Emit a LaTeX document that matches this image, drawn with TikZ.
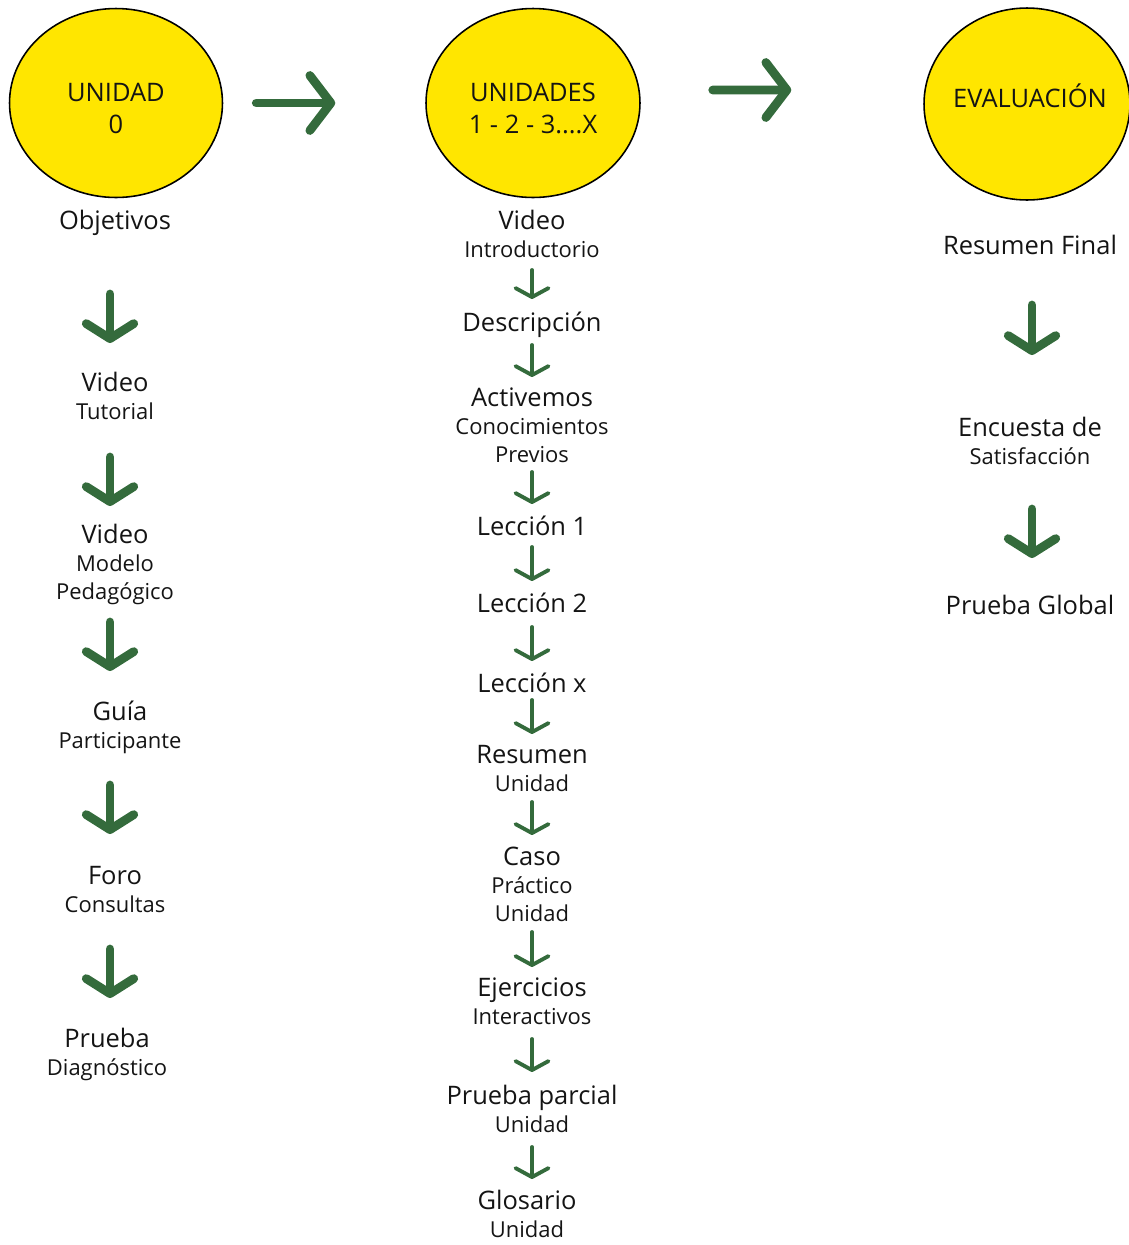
\documentclass[tikz,border=0pt]{standalone}
\usepackage{fontspec}
\setmainfont{Open Sans}
\usetikzlibrary{shapes.geometric,arrows.meta}
\definecolor{verdeflecha}{HTML}{346B3C}
\definecolor{amarillo}{HTML}{FFE600}
\definecolor{tinta}{HTML}{141414}
\newcommand{\grande}{\fontsize{14.5pt}{15.8pt}\selectfont}
\newcommand{\chica}{\fontsize{12.5pt}{15.8pt}\selectfont}
\newcommand{\circulo}{\fontsize{14.5pt}{18pt}\selectfont}
\tikzset{
  unidad/.style={ellipse,draw=black,line width=0.9pt,fill=amarillo,inner sep=0pt},
  rotulo/.style={align=center,anchor=base,text=tinta,font=\circulo,inner sep=0pt},
  paso/.style={align=center,anchor=base,text=tinta,font=\grande,inner sep=0pt},
  flechahoriz/.style={verdeflecha,line width=5pt,line cap=round,
    -{Straight Barb[length=0.42cm,width=1.1cm,round]}},
  flechagruesa/.style={verdeflecha,line width=5pt,line cap=round,
    -{Straight Barb[length=0.3cm,width=0.95cm,round]}},
  flechafina/.style={verdeflecha,line width=2.2pt,line cap=round,
    -{Straight Barb[length=0.18cm,width=0.66cm,round]}},
}
\begin{document}
\begin{tikzpicture}[x=0.02cm,y=-0.02cm]
  \useasboundingbox (0,0) rectangle (1129,1245);
  % las tres etapas
  \node[unidad,minimum width=4.26cm,minimum height=3.78cm] (u0) at (116,103) {};
  \node[unidad,minimum width=4.28cm,minimum height=3.78cm] (u1) at (533,103) {};
  \node[unidad,minimum width=4.12cm,minimum height=3.84cm] (u2) at (1027,104) {};
  \node[rotulo] (u0t) at (116,133) {UNIDAD\\0};
  \node[rotulo] (u1t) at (533,133) {UNIDADES\\1 - 2 - 3....X};
  \node[rotulo] (u2t) at (1030,107) {EVALUACIÓN};
  \draw[flechahoriz,shorten <=0.66cm,shorten >=1.8cm] (u0) -- (u1);
  \draw[flechahoriz,shorten <=1.44cm,shorten >=2.64cm]
    ([yshift=0.26cm]u1.east) -- ([yshift=0.28cm]u2.west);
  % unidad 0
  \node[paso] (obj) at (115,229) {Objetivos};
  \node[paso] (vtut) at (115,419) {Video\\{\chica Tutorial}};
  \node[paso] (vmod) at (115,599) {Video\\{\chica Modelo}\\{\chica Pedagógico}};
  \node[paso] (guia) at (120,748) {Guía\\{\chica Participante}};
  \node[paso] (foro) at (115,912) {Foro\\{\chica Consultas}};
  \node[paso] (pdiag) at (107,1075) {Prueba\\{\chica Diagnóstico}};
  % unidades 1 - 2 - 3
  \node[paso] (vint) at (532,257) {Video\\{\chica Introductorio}};
  \node[paso] (desc) at (532,331) {Descripción};
  \node[paso] (act) at (532,462) {Activemos\\{\chica Conocimientos}\\{\chica Previos}};
  \node[paso] (lec1) at (532,535) {Lección 1};
  \node[paso] (lec2) at (532,612) {Lección 2};
  \node[paso] (lecx) at (532,692) {Lección x};
  \node[paso] (resu) at (532,791) {Resumen\\{\chica Unidad}};
  \node[paso] (caso) at (532,921) {Caso\\{\chica Práctico}\\{\chica Unidad}};
  \node[paso] (ejer) at (532,1024) {Ejercicios\\{\chica Interactivos}};
  \node[paso] (ppar) at (532,1132) {Prueba parcial\\{\chica Unidad}};
  \node[paso] (glos) at (527,1237) {Glosario\\{\chica Unidad}};
  % evaluacion
  \node[paso] (rfin) at (1030,254) {Resumen Final};
  \node[paso] (enc) at (1030,464) {Encuesta de\\{\chica Satisfacción}};
  \node[paso] (pglo) at (1030,614) {Prueba Global};
  % flechas verticales
  \foreach \n/\x/\a/\b in {1/110/294/343, 2/110/457/506, 3/110/622/671,
      4/110/785/834, 5/110/949/998, 6/1032/305/355, 7/1032/509/558} {
    \coordinate (ga\n) at (\x,\a);
    \coordinate (gb\n) at (\x,\b);
    \draw[flechagruesa] (ga\n) -- (gb\n);
  }
  \foreach \n/\a/\b in {1/270/299, 2/345/377, 3/472/504, 4/547/581, 5/627/661,
      6/700/734, 7/802/835, 8/932/967, 9/1039/1072, 10/1147/1179} {
    \coordinate (fa\n) at (532,\a);
    \coordinate (fb\n) at (532,\b);
    \draw[flechafina] (fa\n) -- (fb\n);
  }
\end{tikzpicture}
\end{document}
